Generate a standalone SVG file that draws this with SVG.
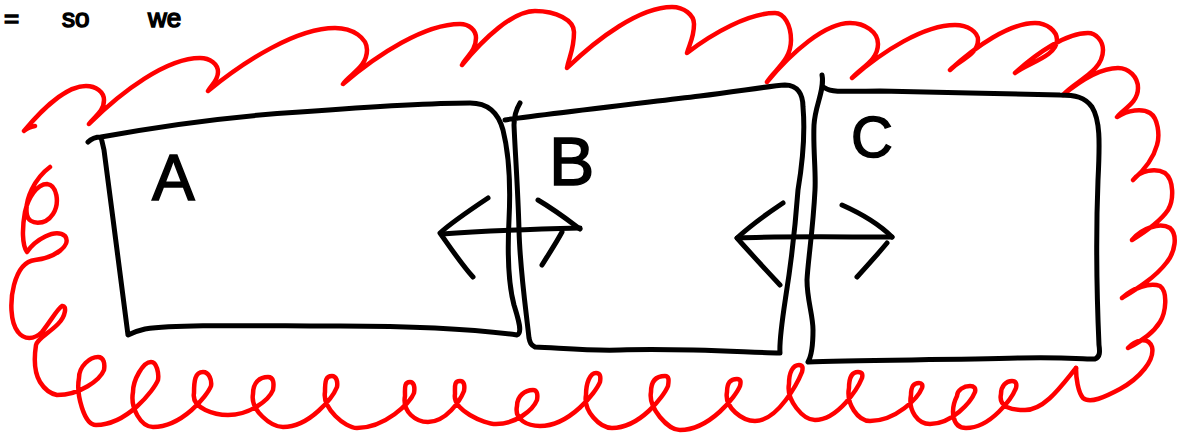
<svg xmlns="http://www.w3.org/2000/svg" width="1185" height="437" viewBox="0 0 1185 437">
<style>
.ink{fill:none;stroke:#000;stroke-width:5;stroke-linecap:round;stroke-linejoin:round}
.red{fill:none;stroke:#ff0000;stroke-width:4.5;stroke-linecap:round;stroke-linejoin:round}
.lbl{font-family:"Liberation Sans","DejaVu Sans",sans-serif;fill:#000;stroke:#000;stroke-width:1.5}
</style>
<rect width="1185" height="437" fill="#fff"/>
<g id="top-note">
<text class="lbl" font-size="26" y="27"><tspan x="4">=</tspan><tspan x="62">so</tspan><tspan x="148">we</tspan></text>
</g>
<g id="cloud">
<path class="red" d="M 35,126 C 30,127 26,129 24,131 C 43,108 67,86 86,86 C 96,86 104,92 104,100 C 104,112 93.5,117 89,124 C 122,91 167,58 200,58 C 210,58 218,64 218,72 C 218,81 211,85 208,91 C 246,60 297,28 335,28 C 353,28 367,38 367,50 C 367,67 350,74 343,84 C 378,54 425,24 460,24 C 469,24 476,30 476,38 C 476,51 466,57 462,65 C 484,38 513,11 535,11 C 556,11 574,20 574,32 C 574,50 569,57 567,68 C 598,38 640,7 672,7 C 684,7 694,15 694,24 C 694,38 689,45 687,53 C 713,33 749,13 775,13 C 784,13 791,25 791,40 C 791,61 774,70 767,82 C 792,52 825,23 850,23 C 865,23 878,32 878,44 C 878,61 860,68 852,78 C 883,51 924,25 955,25 C 968,25 978,32 978,40 C 978,55 958,61 950,70 C 976,46 1010,23 1035,23 C 1047,23 1057,31 1057,40 C 1057,56 1028,63 1015,73 C 1037,53 1066,33 1088,33 C 1096,33 1103,41 1103,50 C 1103,72 1075,81 1063,95 C 1080,81 1101,68 1118,68 C 1129,68 1138,77 1138,88 C 1138,103 1123,109 1117,117 C 1128,110 1142,108 1150,113 C 1158,118 1160,135 1157,145 C 1153,160 1142,172 1133,180 C 1140,170 1156,168 1165,173 C 1174,180 1174,200 1168,210 C 1160,222 1145,232 1132,240 C 1142,228 1160,222 1170,228 C 1178,235 1175,252 1167,262 C 1155,278 1135,290 1122,298 C 1133,288 1150,282 1160,286 C 1168,292 1166,312 1160,322 C 1152,335 1138,343 1128,348 C 1135,340 1148,336 1152,347 C 1155,360 1140,378 1120,389 C 1105,397 1090,404 1083,398 C 1078,392 1076,378 1076,368"/>
<path class="red" d="M 50,167 C 35,178 24,200 27,215 C 29,225 45,226 53,214 C 60,203 57,185 47,184 C 37,184 28,198 25,212 C 22,228 22,245 27,252 C 35,240 55,228 65,236 C 72,245 55,258 35,260 C 25,261 18,270 14,285 C 10,300 10,322 18,332 C 24,340 34,340 42,332 C 50,322 58,308 62,306 C 67,305 66,316 58,324 C 48,334 38,338 36,345 C 34,358 34,372 40,382 C 45,390 52,394 57,395 C 80,395 100,380 104,370 C 105,364 104,357 98,357 C 90,357 79,366 79,378 C 76,394 84,425 96,425 C 127,425 154,390 158,380 C 159,374 157,362 151,362 C 143,362 133,380 133,392 C 130,408 141,427 153,427 C 182,427 207,396 211,386 C 212,380 209,372 203,372 C 195,372 194,381 194,393 C 191,409 216,415 228,415 C 250,415 269,400 273,390 C 274,384 274,377 268,377 C 260,377 253,382 253,394 C 250,410 271,427 283,427 C 310,427 333,397 337,387 C 338,381 336,376 332,376 C 326,376 325,380 325,392 C 322,408 345,428 357,428 C 385,428 410,403 414,393 C 415,387 414,382 410,382 C 404,382 405,388 405,396 C 402,412 416,422 428,422 C 446,422 460,401 464,391 C 465,385 464,381 460,381 C 454,381 455,386 455,394 C 452,410 484,424 496,424 C 516,424 533,410 537,400 C 538,394 537,390 533,390 C 525,390 517,396 517,406 C 514,420 528,426 540,426 C 570,426 596,392 600,382 C 601,376 600,373 596,373 C 590,373 586,383 586,395 C 583,411 600,428 612,428 C 640,428 664,396 668,386 C 669,380 669,376 665,376 C 657,376 651,380 651,392 C 648,408 668,430 680,430 C 710,430 736,396 740,386 C 741,382 741,379 737,379 C 731,379 727,382 727,392 C 724,408 743,421 755,421 C 778,421 798,382 802,372 C 803,368 803,365 799,365 C 793,365 789,372 789,384 C 786,400 803,420 815,420 C 838,420 858,388 862,378 C 863,374 862,372 858,372 C 852,372 849,378 849,388 C 846,404 858,421 870,421 C 896,421 918,398 922,388 C 923,385 922,383 919,383 C 913,383 911,387 911,395 C 908,411 918,424 930,424 C 952,424 971,402 975,392 C 976,388 974,386 970,386 C 964,386 957,390 957,396 C 950,410 952,428 966,428 C 991,428 1012,398 1016,388 C 1017,384 1016,381 1012,381 C 1006,381 1001,386 1001,394 C 998,408 1013,410 1025,410 C 1045,410 1062,385 1076,368"/>
</g>
<g id="node-A">
<path class="ink" d="M 88,142 C 92,138 96,137 101,137 C 150,128 220,117 300,112 C 380,106 440,103 470,103 C 488,103 498,112 503,130 C 508,150 511,180 509,220 C 507,260 510,290 514,305 C 518,318 523,333 517,335 C 480,330 420,326 340,326 C 260,326 180,324 145,329 C 136,331 130,334 128,335 C 122,290 112,210 104,150 L 101,137"/>
<text class="lbl" x="152" y="200" font-size="64">A</text>
</g>
<g id="node-B">
<path class="ink" d="M 505,120 C 515,118 600,108 700,96 C 740,91 770,86 785,85 C 798,85 803,95 803,107 C 805,130 803,160 798,190 C 795,230 790,270 786,295 C 783,315 779,340 780,353 C 740,352 680,348 620,350 C 590,351 560,348 535,347 C 531,345 530,343 529,338 C 526,310 520,270 519,230 C 518,190 515,150 514,125 C 514,115 517,108 520,103"/>
<text class="lbl" x="549" y="185" font-size="68">B</text>
</g>
<g id="node-C">
<path class="ink" d="M 822,75 C 825,90 815,105 814,125 C 813,150 816,170 815,190 C 813,230 808,260 807,280 C 807,300 813,315 813,330 C 813,345 812,355 808,362 C 850,360 950,360 1020,358 C 1060,357 1085,359 1095,359 C 1100,357 1100,352 1099,345 C 1097,300 1096,230 1098,180 C 1100,140 1100,120 1092,107 C 1085,97 1075,95 1060,95 C 1000,94 940,92 880,91 C 850,91 832,93 825,88"/>
<text class="lbl" x="851" y="157" font-size="58">C</text>
</g>
<g id="connectors">
<path class="ink" d="M 442,234 C 480,231 540,229 580,228"/>
<path class="ink" d="M 488,198 C 470,210 452,222 440,233 C 452,250 462,265 473,277"/>
<path class="ink" d="M 538,200 C 555,210 568,220 580,229 M 562,232 C 555,245 548,255 542,265"/>
<path class="ink" d="M 737,238 C 780,236 840,237 892,237"/>
<path class="ink" d="M 783,203 C 765,215 748,228 737,238 C 752,255 766,270 780,285"/>
<path class="ink" d="M 842,205 C 860,213 880,225 892,237 M 887,243 C 877,255 867,266 857,277"/>
</g>
</svg>
